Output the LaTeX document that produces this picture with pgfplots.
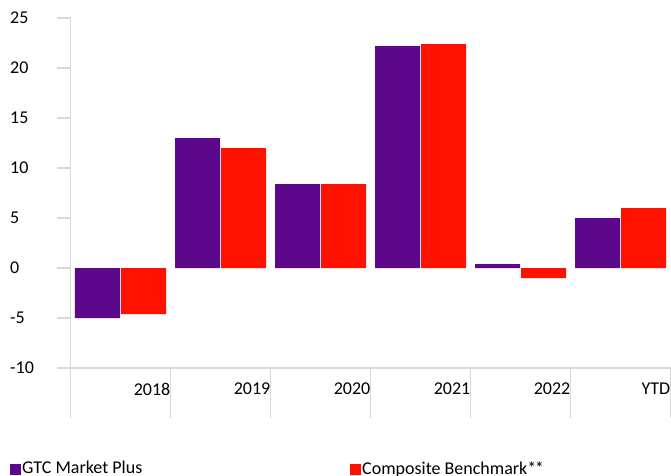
\documentclass[border=0pt]{standalone}
\usepackage{pgfplots}
\pgfplotsset{compat=1.18}
\usepackage{fontspec}
\setmainfont{Carlito}
\usetikzlibrary{calc}
\definecolor{gtcpurple}{RGB}{92,8,138}
\definecolor{benchred}{RGB}{255,17,0}
\definecolor{axgray}{RGB}{217,217,217}
\pgfplotsset{sqleg/.style={legend image code/.code={\fill[##1] (0bp,-5.5bp) rectangle (11bp,5.5bp);}}}
\begin{document}
\fontsize{18bp}{21bp}\selectfont
\begin{tikzpicture}
\begin{axis}[name=a, scale only axis, width=600bp, height=350bp,
  xmin=-0.5, xmax=5.5, ymin=-10, ymax=25,
  clip=false,
  axis lines*=left,
  axis line style={axgray, line width=1.3bp},
  tick style={draw=axgray, line width=1.3bp},
  tick align=outside,
  major tick length=13.5bp,
  /pgf/number format/assume math mode=true,
  tick label style={font=\fontsize{18bp}{21bp}\selectfont},
  ytick={-10,-5,0,5,10,15,20,25},
  yticklabel style={anchor=west, inner sep=0pt, xshift=-47bp},
  xtick=\empty,
  extra x ticks={-0.5,0.5,1.5,2.5,3.5,4.5,5.5},
  extra x tick labels={,2018,2019,2020,2021,2022,YTD},
  extra x tick style={major tick length=50bp,
    xticklabel style={anchor=north east, inner sep=0pt, xshift=0bp, yshift=35bp}},
  legend columns=2,
  legend style={at={(0,0)}, anchor=west, xshift=-60.5bp, yshift=-101bp,
    draw=none, fill=none, inner sep=0pt, column sep=0pt,
    font=\fontsize{18bp}{21bp}\selectfont,
    nodes={inner sep=0pt, anchor=west}},
]
\addplot[ybar, bar width=45bp, bar shift=-23bp, fill=gtcpurple, draw=none, sqleg]
  coordinates {(0,-5.0) (1,13.0) (2,8.4) (3,22.2) (4,0.4) (5,5.0)};
\addplot[ybar, bar width=45bp, bar shift=23bp, fill=benchred, draw=none, sqleg]
  coordinates {(0,-4.6) (1,12.0) (2,8.4) (3,22.4) (4,-1.0) (5,6.0)};
\pgfplotsinvokeforeach{-10,-5,0,5,10,15,20,25}{
  \draw[draw=axgray, line width=1.3bp] (axis cs:-0.5,#1) -- ([xshift=-13.5bp]axis cs:-0.5,#1);
}
\legend{\makebox[329bp][l]{\hspace{1bp}GTC Market Plus},\makebox[200bp][l]{\hspace{1bp}Composite Benchmark*\kern-1.5bp*}}
\end{axis}
\pgfresetboundingbox
\path[use as bounding box] ($(a.south west)+(-70.5bp,-107bp)$) rectangle ($(a.north east)+(0.5bp,18bp)$);
\end{tikzpicture}
\end{document}
